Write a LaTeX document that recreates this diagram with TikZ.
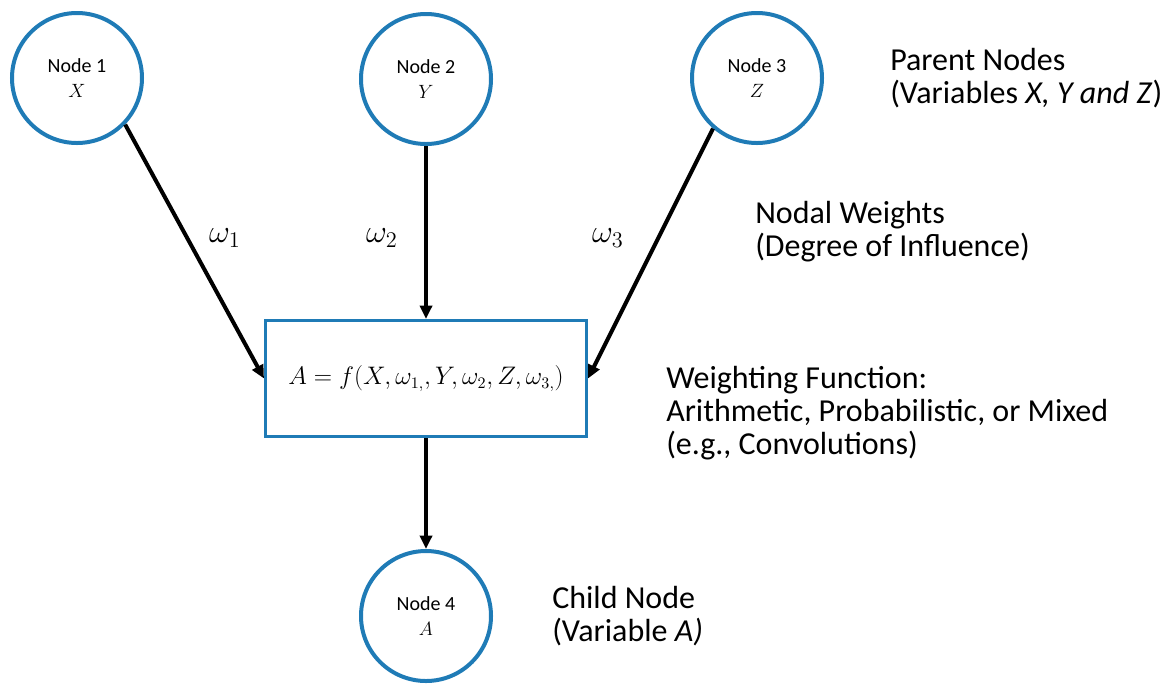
\documentclass[tikz,border=0pt]{standalone}
\usepackage{fontspec}
\setmainfont{Carlito}
\usepackage{graphicx}
\usepackage{tikz}
\usetikzlibrary{positioning,arrows.meta}
\usepackage{xcolor}
\definecolor{bnblue}{HTML}{1F7BB6}
\definecolor{bnblack}{HTML}{000000}
\newcommand{\wmath}[1]{\scalebox{1.4}{$#1$}}

\begin{document}
\begin{tikzpicture}[x=0.75pt,y=-0.75pt,
          vnode/.style={circle,draw=bnblue,line width=3pt,minimum size=97.5pt,inner sep=0pt,
                        font=\fontsize{15}{21}\selectfont,align=center},
          fbox/.style={draw=bnblue,line width=2.25pt,minimum width=240.75pt,minimum height=87pt,
                       font=\fontsize{16}{19}\selectfont},
          arr/.style={bnblack,line width=3pt,-{Triangle[length=10pt,width=9pt]}},
          wlabel/.style={font=\fontsize{17}{20}\selectfont},
          note/.style={anchor=west,align=left,inner sep=0pt,font=\fontsize{24}{24.75}\selectfont}]
        \useasboundingbox (0,0) rectangle (1174,683);
        \node[vnode] (n1) at (77,78) {Node 1\\[-2pt]$X$};
        \node[vnode] (n2) at (426,79) {Node 2\\[-2pt]$Y$};
        \node[vnode] (n3) at (757,78) {Node 3\\[-2pt]$Z$};
        \node[fbox] (fx) at (426,378.5) {\scalebox{1.1}{$A=f\bigl(X,\omega_{1,},Y,\omega_{2},Z,\omega_{3,}\bigr)$}};
        \node[vnode] (n4) at (426,616) {Node 4\\[-2pt]$A$};
        \draw[arr] (n1.-44) -- (fx.west);
        \draw[arr] (n2) -- (fx);
        \draw[arr] (n3.-131) -- (fx.east);
        \draw[arr] (fx) -- (n4);
        % weights on the arrows
        \node[wlabel] (w1) at (225,238) {\wmath{\omega_1}};
        \node[wlabel] (w2) at (382,238) {\wmath{\omega_2}};
        \node[wlabel] (w3) at (608,238) {\wmath{\omega_3}};
        % notes on the right
        \node[note] (parent) at (890,78) {Parent Nodes\\(Variables \textit{X, Y and Z})};
        \node[note] (weights) at (755,232) {Nodal Weights\\(Degree of Influence)};
        \node[note] (func) at (666,413) {Weighting Function:\\Arithmetic, Probabilistic, or Mixed\\(e.g., Convolutions)};
        \node[note] (child) at (552,616) {Child Node\\(Variable \textit{A)}};
      \end{tikzpicture}
\end{document}
